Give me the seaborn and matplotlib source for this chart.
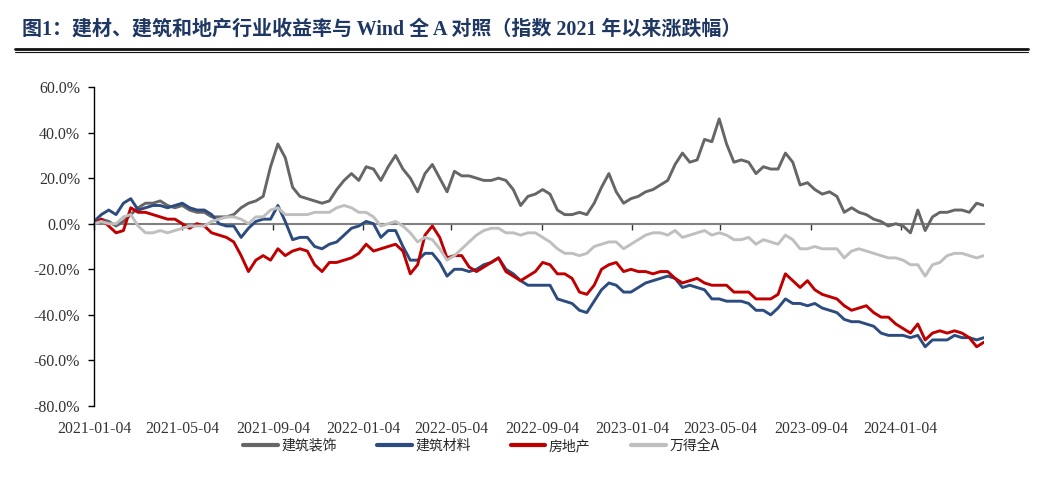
import pandas as pd
import matplotlib
matplotlib.use('Agg')
import matplotlib.pyplot as plt
import matplotlib.dates as mdates
from matplotlib.lines import Line2D
import seaborn as sns

# 指数 2021 年以来涨跌幅（%），约每 10 天取一个点
dates = pd.date_range('2021-01-04', '2024-04-26', periods=122)

jianzhu_zhuangshi = [
    0, 2, 1, -1, 1, 4, 7, 9, 9, 10,
    8, 7, 8, 6, 5, 5, 3, 3, 3, 4,
    7, 9, 10, 12, 25, 35, 29, 16, 12, 11,
    10, 9, 10, 15, 19, 22, 19, 25, 24, 19,
    25, 30, 24, 20, 14, 22, 26, 20, 14, 23,
    21, 21, 20, 19, 19, 20, 19, 15, 8, 12,
    13, 15, 13, 6, 4, 4, 5, 4, 9, 16,
    22, 14, 9, 11, 12, 14, 15, 17, 19, 26,
    31, 27, 28, 37, 36, 46, 35, 27, 28, 27,
    22, 25, 24, 24, 31, 27, 17, 18, 15, 13,
    14, 12, 5, 7, 5, 4, 2, 1, -1, 0,
    -1, -4, 6, -3, 3, 5, 5, 6, 6, 5,
    9, 8]

jianzhu_cailiao = [
    1, 4, 6, 4, 9, 11, 6, 7, 8, 8,
    7, 8, 9, 7, 6, 6, 4, 0, -1, -1,
    -6, -2, 1, 2, 2, 8, 1, -7, -6, -6,
    -10, -11, -9, -8, -5, -2, -1, 1, 0, -6,
    -3, -3, -10, -16, -16, -13, -13, -17, -23, -20,
    -20, -21, -20, -18, -17, -15, -20, -22, -25, -27,
    -27, -27, -27, -33, -34, -35, -38, -39, -34, -29,
    -26, -27, -30, -30, -28, -26, -25, -24, -23, -24,
    -28, -27, -28, -29, -33, -33, -34, -34, -34, -35,
    -38, -38, -40, -37, -33, -35, -35, -36, -35, -37,
    -38, -39, -42, -43, -43, -44, -45, -48, -49, -49,
    -49, -50, -49, -54, -51, -51, -51, -49, -50, -50,
    -51, -50]

fangdichan = [
    0, 2, -1, -4, -3, 7, 5, 5, 4, 3,
    2, 2, 0, -2, 0, -1, -4, -5, -6, -8,
    -14, -21, -16, -14, -16, -11, -14, -12, -11, -12,
    -18, -21, -17, -17, -16, -15, -13, -9, -12, -11,
    -10, -9, -12, -22, -18, -5, -1, -6, -15, -14,
    -14, -19, -21, -19, -17, -15, -21, -23, -25, -23,
    -21, -17, -18, -22, -22, -24, -30, -31, -27, -20,
    -18, -17, -21, -20, -21, -21, -22, -21, -21, -24,
    -26, -25, -24, -26, -27, -27, -27, -30, -30, -30,
    -33, -33, -33, -31, -22, -25, -28, -25, -29, -31,
    -32, -33, -36, -38, -37, -36, -39, -41, -41, -44,
    -46, -48, -44, -51, -48, -47, -48, -47, -48, -50,
    -54, -52]

wande_quan_a = [
    0, 1, 0, 0, 3, 4, -1, -4, -4, -3,
    -4, -3, -2, -1, -1, -1, 1, 2, 3, 3,
    2, 0, 3, 3, 6, 7, 4, 4, 4, 4,
    5, 5, 5, 7, 8, 7, 5, 5, 3, -1,
    0, 1, -1, -4, -8, -6, -7, -11, -16, -14,
    -11, -8, -5, -3, -2, -2, -4, -4, -5, -4,
    -4, -6, -8, -11, -13, -13, -14, -13, -10, -9,
    -8, -8, -11, -9, -7, -5, -4, -4, -5, -3,
    -6, -5, -4, -3, -5, -4, -5, -7, -7, -6,
    -9, -7, -8, -9, -5, -7, -11, -11, -10, -11,
    -11, -11, -15, -12, -11, -12, -13, -14, -15, -15,
    -16, -18, -18, -23, -18, -17, -14, -13, -13, -14,
    -15, -14]

series_names = ['建筑装饰', '建筑材料', '房地产', '万得全A']
series_colors = ['#666666', '#2C4C7F', '#C00000', '#BFBFBF']
tick_dates = pd.to_datetime(['2021-01-04', '2021-05-04', '2021-09-04', '2022-01-04',
                             '2022-05-04', '2022-09-04', '2023-01-04', '2023-05-04',
                             '2023-09-04', '2024-01-04'])

df = pd.DataFrame({'date': dates, '建筑装饰': jianzhu_zhuangshi, '建筑材料': jianzhu_cailiao,
                   '房地产': fangdichan, '万得全A': wande_quan_a})
long_df = df.melt(id_vars='date', var_name='行业', value_name='涨跌幅')

sns.set_style('white')
plt.rcParams['font.family'] = ['Liberation Serif', 'Noto Sans CJK SC']
plt.rcParams['axes.unicode_minus'] = False

fig = plt.figure(figsize=(10.49, 4.83), dpi=100)
ax = fig.add_axes([94 / 1049, 1 - 406 / 483, (984 - 94) / 1049, (406 - 87) / 483])

sns.lineplot(data=long_df, x='date', y='涨跌幅', hue='行业', hue_order=series_names,
             palette=series_colors, linewidth=2.1, ax=ax, legend=False)

ax.set_xlim(dates[0], dates[-1])
ax.set_ylim(-80, 60)
ax.set_yticks(range(-80, 61, 20))
ax.set_yticklabels([f'{v:.1f}%' for v in range(-80, 61, 20)])
ax.set_xticks(tick_dates)
ax.set_xticklabels([d.strftime('%Y-%m-%d') for d in tick_dates])
ax.set_xlabel('')
ax.set_ylabel('')

for s in ['top', 'right', 'bottom']:
    ax.spines[s].set_visible(False)
ax.spines['left'].set_color('#000000')
ax.spines['left'].set_linewidth(1.0)
ax.tick_params(axis='y', direction='out', length=4, width=1, color='#000000',
               pad=6, labelsize=11.5, labelcolor='#333333', left=True)
ax.tick_params(axis='x', length=0, pad=11, labelsize=11.3, labelcolor='#333333')

# 零轴（横轴线在 0 处，刻度标签在底部）
zero_axis = ax.secondary_xaxis(80 / 140)
zero_axis.set_xticks(mdates.date2num(tick_dates))
zero_axis.tick_params(direction='in', length=4, width=1, color='#333333', labeltop=False)
zero_axis.spines['top'].set_color('#808080')
zero_axis.spines['top'].set_linewidth(1.5)

handles = [Line2D([], [], color=c, linewidth=3) for c in series_colors]
fig.legend(handles, series_names, loc='center', bbox_to_anchor=(481 / 1049, 1 - 446 / 483),
           ncol=4, frameon=False, handlelength=2.5, handletextpad=0.25, columnspacing=2.9,
           prop={'family': ['Noto Sans CJK SC'], 'size': 10})

fig.text(22 / 1049, 1 - 30 / 483,
         '图1：建材、建筑和地产行业收益率与 Wind 全 A 对照（指数 2021 年以来涨跌幅）',
         ha='left', va='center', fontsize=14.4, fontweight='bold', color='#1F3763',
         family=['Liberation Serif', 'Noto Sans CJK SC'])
fig.add_artist(Line2D([15 / 1049, 1028 / 1049], [1 - 48.5 / 483] * 2, color='#111111', linewidth=2.0))
fig.add_artist(Line2D([15 / 1049, 1028 / 1049], [1 - 51.5 / 483] * 2, color='#111111', linewidth=0.8))

fig.savefig('out.png', dpi=100)
